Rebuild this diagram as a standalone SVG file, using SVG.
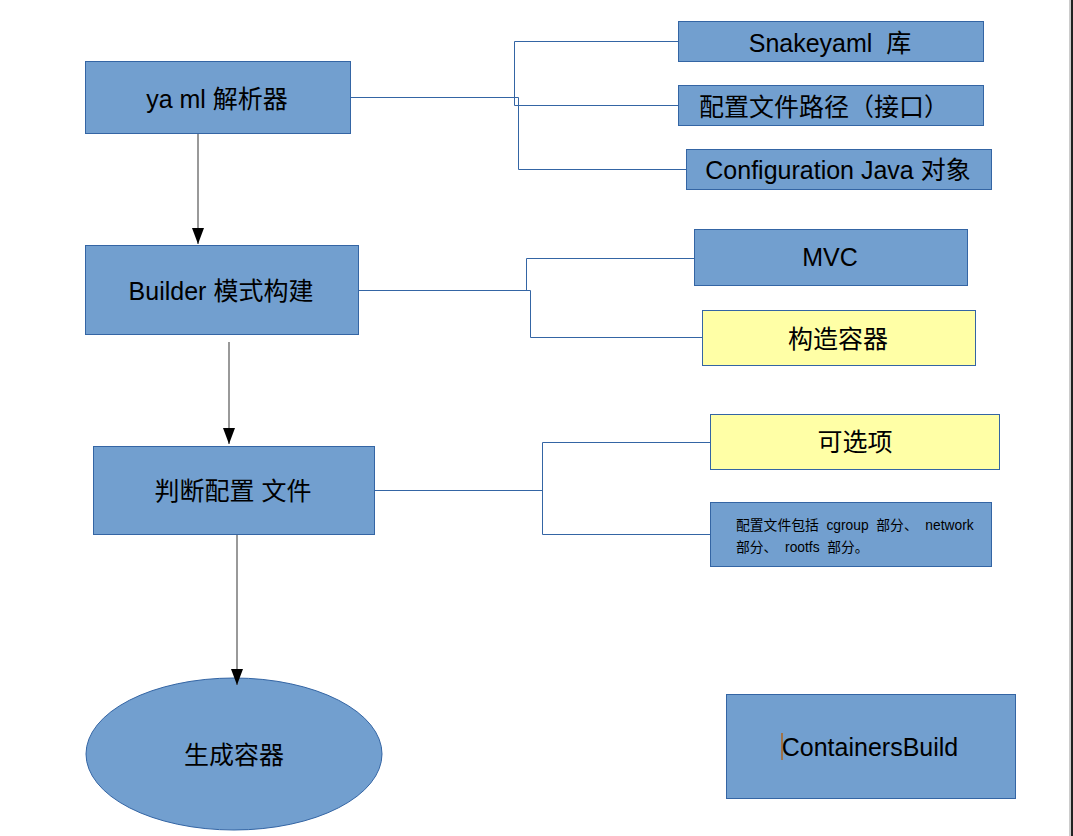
<svg xmlns="http://www.w3.org/2000/svg" width="1073" height="836" viewBox="0 0 1073 836">
<style>
.b{fill:#729fcf;stroke:#3465a4;stroke-width:1}
.y{fill:#ffffa6;stroke:#3465a4;stroke-width:1}
.t{font-family:"Liberation Sans","Noto Sans CJK SC",sans-serif;font-size:25px;fill:#000;text-anchor:middle;white-space:pre}
.s{font-family:"Liberation Sans","Noto Sans CJK SC",sans-serif;font-size:13.8px;fill:#000;white-space:pre}
.c{fill:none;stroke:#3465a4;stroke-width:1}
.a{fill:none;stroke:#555;stroke-width:1.2}
</style>
<defs>
<marker id="ah" markerWidth="16" markerHeight="12" refX="16" refY="6" orient="auto" markerUnits="userSpaceOnUse" viewBox="0 0 16 12">
<path d="M0,0 L16,6 L0,12 Z" fill="#000"/>
</marker>
</defs>
<rect width="1073" height="836" fill="#fff"/>
<line x1="1070" y1="0" x2="1070" y2="836" stroke="#999" stroke-width="1"/>
<line x1="1072" y1="0" x2="1072" y2="836" stroke="#222" stroke-width="2"/>

<g id="yaml"><rect class="b" x="85.5" y="61.5" width="265" height="72"/><text class="t" x="217" y="108">ya ml 解析器</text></g>
<g id="builder"><rect class="b" x="85.5" y="245.5" width="273" height="89"/><text class="t" x="221" y="300">Builder 模式构建</text></g>
<g id="judge"><rect class="b" x="93.5" y="446.5" width="281" height="88"/><text class="t" x="233" y="500">判断配置 文件</text></g>
<g id="generate"><ellipse class="b" cx="234" cy="754" rx="148" ry="76"/><text class="t" x="234" y="764">生成容器</text></g>

<g id="snakeyaml"><rect class="b" x="678.5" y="21.5" width="305" height="40"/><text class="t" x="830" y="52">Snakeyaml  库</text></g>
<g id="path"><rect class="b" x="678.5" y="85.5" width="305" height="40"/><text class="t" x="824" y="116">配置文件路径（接口）</text></g>
<g id="configuration"><rect class="b" x="686.5" y="149.5" width="305" height="40"/><text class="t" x="838" y="179">Configuration Java 对象</text></g>

<g id="mvc"><rect class="b" x="694.5" y="229.5" width="273" height="56"/><text class="t" x="830" y="266">MVC</text></g>
<g id="construct"><rect class="y" x="702.5" y="310.5" width="273" height="55"/><text class="t" x="838" y="348">构造容器</text></g>

<g id="optional"><rect class="y" x="710.5" y="414.5" width="289" height="55"/><text class="t" x="855" y="451">可选项</text></g>
<g id="includes"><rect class="b" x="710.5" y="502.5" width="281" height="64"/><text class="s" x="736" y="530">配置文件包括  cgroup  部分、  network</text><text class="s" x="736" y="552">部分、  rootfs  部分。</text></g>

<g id="containersbuild"><rect class="b" x="726.5" y="694.5" width="289" height="104"/><line x1="782" y1="733" x2="782" y2="760" stroke="#b0651c" stroke-width="1.5"/><text class="t" x="870" y="756">ContainersBuild</text></g>

<g id="connectors">
<path class="c" d="M350.5,97.5 H514.5 M514.5,41.5 V105.5 M514.5,41.5 H678 M514.5,105.5 H678 M514.5,97.5 H518.5 V169.5 H686"/>
<path class="c" d="M358.5,290.5 H530.5 M526.5,258.5 V290.5 M526.5,258.5 H694 M530.5,290.5 V337.5 H703"/>
<path class="c" d="M374.5,490.5 H542.5 M542.5,442.5 V534.5 M542.5,442.5 H710 M542.5,534.5 H710"/>
<line class="a" x1="198" y1="134" x2="198" y2="244" marker-end="url(#ah)"/>
<line class="a" x1="229" y1="342" x2="229" y2="444" marker-end="url(#ah)"/>
<line class="a" x1="237" y1="535" x2="237" y2="685" marker-end="url(#ah)"/>
</g>
</svg>
